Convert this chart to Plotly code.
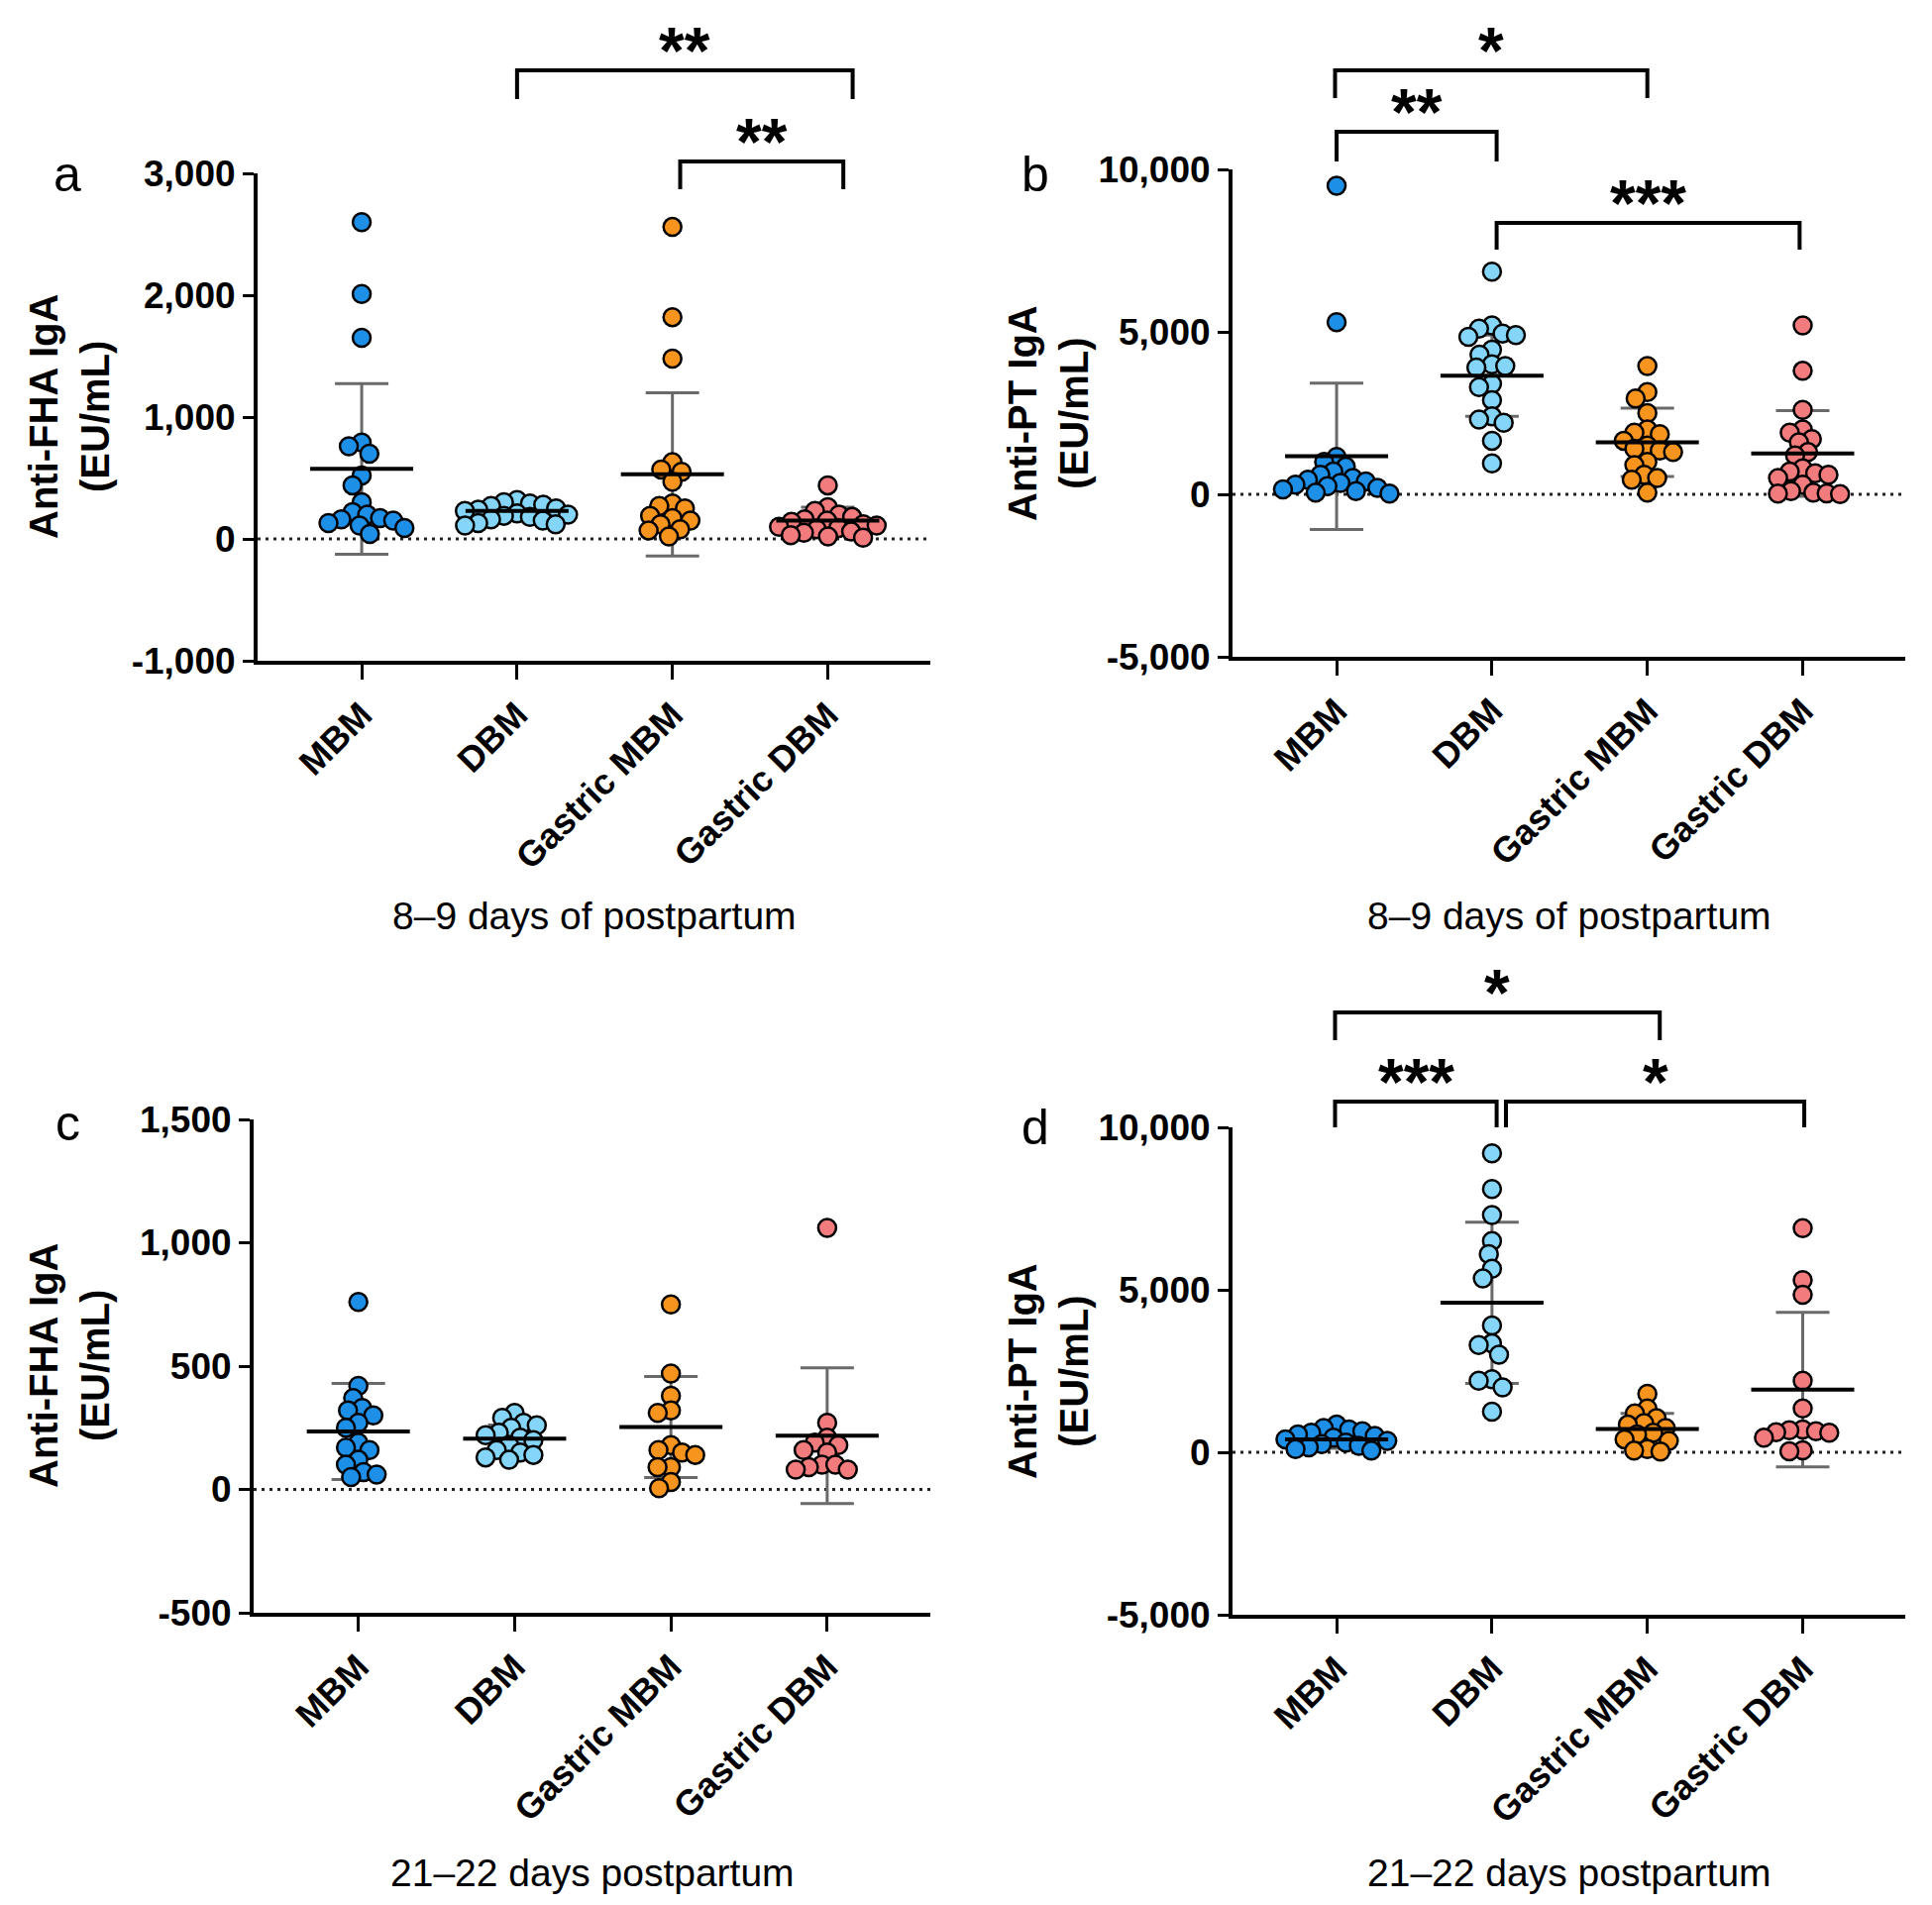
import numpy as np
import plotly.graph_objects as go

W, H = 1950, 1923

categories = ["MBM", "DBM", "Gastric MBM", "Gastric DBM"]
colors = ["#1E8FE6", "#84D5F7", "#F7941D", "#F27B7D"]

# ---------- panel a : Anti-FHA IgA, 8-9 days ----------
a_MBM = [2600, 2010, 1650, 790, 760, 700, 520, 440, 300, 220, 200, 170, 160, 150, 130, 110, 90, 40]
a_DBM = [320, 300, 290, 280, 270, 250, 240, 230, 210, 200, 190, 180, 160, 150, 130, 120, 110]
a_GMBM = [2560, 1820, 1480, 630, 570, 550, 470, 290, 270, 250, 190, 170, 150, 120, 80, 70, 20]
a_GDBM = [440, 260, 230, 200, 180, 160, 150, 140, 120, 110, 100, 90, 80, 60, 50, 30, 20, 10]
a_mean = [575, 230, 530, 150]
a_sd = [700, 60, 670, 110]
a_ticks = [-1000, 0, 1000, 2000, 3000]
a_ticktext = ["-1,000", "0", "1,000", "2,000", "3,000"]

# ---------- panel b : Anti-PT IgA, 8-9 days ----------
b_MBM = [9500, 5300, 1150, 1000, 850, 700, 600, 500, 450, 400, 350, 300, 250, 200, 150, 100, 50, 20]
b_DBM = [6850, 5200, 5100, 4950, 4900, 4850, 4450, 4300, 4000, 3950, 3900, 3400, 3300, 2900, 2400,
         2300, 2200, 1650, 950]
b_GMBM = [3950, 3150, 2950, 2500, 2000, 1900, 1850, 1650, 1500, 1400, 1350, 1300, 1000, 900, 600,
          500, 450, 50]
b_GDBM = [5200, 3800, 2600, 2000, 1900, 1700, 1600, 1300, 1200, 800, 700, 650, 600, 500, 300,
          100, 50, 30, 20, 10]
b_mean = [1170, 3650, 1600, 1260]
b_sd = [2250, 1250, 1050, 1320]
b_ticks = [-5000, 0, 5000, 10000]
b_ticktext = ["-5,000", "0", "5,000", "10,000"]

# ---------- panel c : Anti-FHA IgA, 21-22 days ----------
c_MBM = [760, 420, 370, 330, 320, 300, 270, 250, 190, 170, 160, 120, 100, 70, 60, 50]
c_DBM = [310, 290, 270, 260, 250, 230, 220, 210, 200, 180, 160, 150, 140, 130, 120]
c_GMBM = [750, 470, 380, 320, 310, 180, 160, 150, 140, 90, 90, 30, 5]
c_GDBM = [1060, 270, 210, 190, 180, 160, 150, 100, 100, 90, 80, 80]
c_mean = [235, 206, 253, 218]
c_sd = [195, 55, 205, 275]
c_ticks = [-500, 0, 500, 1000, 1500]
c_ticktext = ["-500", "0", "500", "1,000", "1,500"]

# ---------- panel d : Anti-PT IgA, 21-22 days ----------
d_MBM = [850, 750, 700, 650, 600, 550, 500, 450, 400, 350, 300, 250, 200, 150, 100, 50]
d_DBM = [9200, 8100, 7300, 6500, 6100, 5650, 5350, 3900, 3350, 3300, 3000, 2250, 2200, 2000, 1250]
d_GMBM = [1800, 1350, 1200, 1050, 900, 850, 750, 600, 550, 400, 350, 100, 50, 20]
d_GDBM = [6900, 5300, 4850, 2200, 1350, 700, 680, 650, 620, 600, 450, 60, 30]
d_mean = [400, 4600, 720, 1930]
d_sd = [280, 2480, 480, 2380]
d_ticks = [-5000, 0, 5000, 10000]
d_ticktext = ["-5,000", "0", "5,000", "10,000"]

FONT = "Liberation Sans, Arial, sans-serif"
XR = [-0.67, 3.66]

panels = [
    dict(key="a", groups=[a_MBM, a_DBM, a_GMBM, a_GDBM], mean=a_mean, sd=a_sd,
         yr=[-1000, 3000], ticks=a_ticks, ticktext=a_ticktext,
         box=(260, 939, 175, 667), ytitle="Anti-FHA IgA<br>(EU/mL)", ytx=70,
         xtitle="8\u20139 days of postpartum", xty=924, letter=(68, 176),
         brackets=[(1.0, 3.16, 71, 100, "**"), (2.05, 3.10, 163, 191, "**")]),
    dict(key="b", groups=[b_MBM, b_DBM, b_GMBM, b_GDBM], mean=b_mean, sd=b_sd,
         yr=[-5000, 10000], ticks=b_ticks, ticktext=b_ticktext,
         box=(1244, 1923, 171, 663), ytitle="Anti-PT IgA<br>(EU/mL)", ytx=1058,
         xtitle="8\u20139 days of postpartum", xty=924, letter=(1045, 176),
         brackets=[(-0.01, 2.0, 71, 99, "*"), (0.0, 1.03, 133, 163, "**"),
                   (1.03, 2.98, 225, 252, "***")]),
    dict(key="c", groups=[c_MBM, c_DBM, c_GMBM, c_GDBM], mean=c_mean, sd=c_sd,
         yr=[-500, 1500], ticks=c_ticks, ticktext=c_ticktext,
         box=(256, 939, 1130, 1628), ytitle="Anti-FHA IgA<br>(EU/mL)", ytx=70,
         xtitle="21\u201322 days postpartum", xty=1890, letter=(68, 1134),
         brackets=[]),
    dict(key="d", groups=[d_MBM, d_DBM, d_GMBM, d_GDBM], mean=d_mean, sd=d_sd,
         yr=[-5000, 10000], ticks=d_ticks, ticktext=d_ticktext,
         box=(1244, 1923, 1138, 1630), ytitle="Anti-PT IgA<br>(EU/mL)", ytx=1058,
         xtitle="21\u201322 days postpartum", xty=1890, letter=(1045, 1138),
         brackets=[(-0.01, 2.08, 1022, 1050, "*"), (-0.01, 1.03, 1112, 1138, "***"),
                   (1.09, 3.01, 1112, 1138, "*")]),
]

MARK = 18
PACK = 13.5


def swarm(values, ppu_y, ppu_x, diam):
    vals = np.asarray(values, dtype=float)
    order = np.argsort(-vals, kind="stable")
    placed = []
    offs = np.zeros(len(vals))
    for idx in order:
        y = vals[idx] * ppu_y
        cands = [0.0]
        for (px, py) in placed:
            dy = abs(py - y)
            if dy < diam:
                dx = np.sqrt(diam ** 2 - dy ** 2)
                cands += [px + dx, px - dx]
        cands.sort(key=lambda c: (abs(c), c))
        chosen = 0.0
        for c in cands:
            if all((c - px) ** 2 + (y - py) ** 2 >= diam ** 2 - 1e-6 for px, py in placed):
                chosen = c
                break
        placed.append((chosen, y))
        offs[idx] = chosen / ppu_x
    return offs


def px2fx(px):
    return px / W


def py2fy(py):
    return 1 - py / H


fig = go.Figure()
annotations = []
shapes = []

for k, p in enumerate(panels):
    n = "" if k == 0 else str(k + 1)
    xa, ya = "x" + n, "y" + n
    x0, x1, yt, yb = p["box"]
    ppu_x = (x1 - x0) / (XR[1] - XR[0])
    ppu_y = (yb - yt) / (p["yr"][1] - p["yr"][0])

    # zero dotted line
    fig.add_trace(go.Scatter(x=XR, y=[0, 0], mode="lines", xaxis=xa, yaxis=ya,
                             line=dict(color="#222", width=3, dash="3px,5px"),
                             showlegend=False, hoverinfo="skip"))
    # SD error bars
    for i in range(4):
        fig.add_trace(go.Scatter(x=[i], y=[p["mean"][i]], mode="markers", xaxis=xa, yaxis=ya,
                                 marker=dict(size=1, color="rgba(0,0,0,0)"),
                                 error_y=dict(type="data", array=[p["sd"][i]], width=27,
                                              thickness=3, color="#6a6a6a"),
                                 showlegend=False, hoverinfo="skip"))
    # points
    for i, vals in enumerate(p["groups"]):
        offs = swarm(vals, ppu_y, ppu_x, PACK)
        fig.add_trace(go.Scatter(x=i + offs, y=vals, mode="markers", xaxis=xa, yaxis=ya,
                                 marker=dict(size=MARK, color=colors[i],
                                             line=dict(color="black", width=2.5)),
                                 showlegend=False, cliponaxis=False))
    # mean lines
    for i in range(4):
        fig.add_trace(go.Scatter(x=[i], y=[p["mean"][i]], mode="markers", xaxis=xa, yaxis=ya,
                                 marker=dict(size=1, color="rgba(0,0,0,0)"),
                                 error_x=dict(type="data", array=[52 / ppu_x], width=0,
                                              thickness=4, color="black"),
                                 showlegend=False, hoverinfo="skip"))

    axis_common = dict(showline=True, linewidth=4, linecolor="black", showgrid=False,
                       zeroline=False, ticks="outside", tickwidth=3, tickcolor="black",
                       automargin=False)
    fig.update_layout(**{
        ("xaxis" + n): dict(domain=[px2fx(x0), px2fx(x1)], range=XR, anchor=ya,
                            tickvals=[0, 1, 2, 3], ticktext=categories, tickangle=-45,
                            ticklen=15,
                            tickfont=dict(family=FONT, size=36, color="black", weight="bold"),
                            **axis_common),
        ("yaxis" + n): dict(domain=[py2fy(yb), py2fy(yt)], range=p["yr"], anchor=xa,
                            tickvals=p["ticks"], ticktext=p["ticktext"], ticklen=11,
                            tickfont=dict(family=FONT, size=37, color="black", weight="bold"),
                            **axis_common),
    })

    # y title
    annotations.append(dict(x=px2fx(p["ytx"]), y=py2fy((yt + yb) / 2), xref="paper", yref="paper",
                            text=p["ytitle"], textangle=-90, showarrow=False,
                            font=dict(family=FONT, size=40, color="black", weight="bold"),
                            xanchor="center", yanchor="middle"))
    # x title
    annotations.append(dict(x=px2fx((x0 + x1) / 2), y=py2fy(p["xty"]), xref="paper", yref="paper",
                            text=p["xtitle"], showarrow=False,
                            font=dict(family=FONT, size=39, color="black"),
                            xanchor="center", yanchor="middle"))
    # panel letter
    annotations.append(dict(x=px2fx(p["letter"][0]), y=py2fy(p["letter"][1]), xref="paper",
                            yref="paper", text=p["key"], showarrow=False,
                            font=dict(family=FONT, size=50, color="black"),
                            xanchor="center", yanchor="middle"))
    # significance brackets
    for (ca, cb, yline, yend, lab) in p["brackets"]:
        xa_px = x0 + (ca - XR[0]) * ppu_x
        xb_px = x0 + (cb - XR[0]) * ppu_x
        shapes.append(dict(type="path", xref="paper", yref="paper",
                           path="M {},{} L {},{} L {},{} L {},{}".format(
                               px2fx(xa_px), py2fy(yend), px2fx(xa_px), py2fy(yline),
                               px2fx(xb_px), py2fy(yline), px2fx(xb_px), py2fy(yend)),
                           line=dict(color="black", width=4)))
        annotations.append(dict(x=px2fx((xa_px + xb_px) / 2), y=py2fy(yline - 20),
                                xref="paper", yref="paper", text=lab, showarrow=False,
                                font=dict(family=FONT, size=66, color="black", weight="bold"),
                                xanchor="center", yanchor="middle"))

fig.update_layout(width=W, height=H,
                  margin=dict(l=0, r=0, t=0, b=0, pad=0, autoexpand=False),
                  paper_bgcolor="white", plot_bgcolor="white",
                  annotations=annotations, shapes=shapes, showlegend=False)

fig.write_html("out.html", config={"displayModeBar": False},
               post_script="document.body.style.margin='0';")
